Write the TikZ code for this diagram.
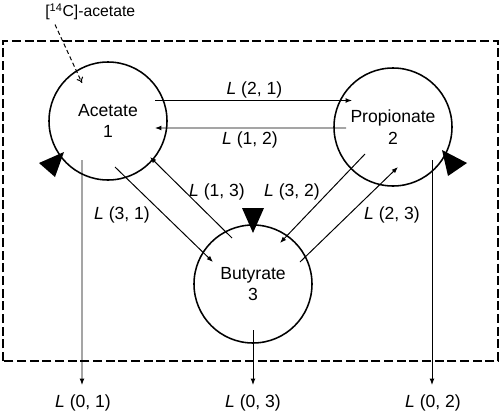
\documentclass[tikz,border=0pt]{standalone}
\usepackage{fontspec}
\setmainfont{Liberation Sans}
\usetikzlibrary{arrows.meta, calc}

\begin{document}
\begin{tikzpicture}[
    >={Latex[length=4.5pt,width=3.4pt]}, % Small filled arrow tips
    pool/.style={draw, circle, line width=1.1pt, minimum size=2.95cm, inner sep=0pt, align=center}, % Style for the pools
    flow/.style={->, line width=0.7pt}, % Style for the exchanges
    tracer/.style={-{To[length=4pt,width=5pt]}, line width=0.7pt, dash pattern=on 3pt off 2pt}, % Style for the label input
    boxstyle/.style={line width=1.3pt, dash pattern=on 6.4pt off 2.6pt}, % Style for the system box
    marker/.style={fill=black}, % Style for the big triangles
    every node/.style={font=\fontsize{12.5}{15.5}\selectfont}
]
    \useasboundingbox (0, 0) rectangle (12.5, 10.35);

    % Pools
    \node[pool] (ace) at (2.7, 7.325)   {Acetate\\1};
    \node[pool] (pro) at (9.825, 7.175) {Propionate\\2};
    \node[pool] (but) at (6.325, 3.25)  {Butyrate\\3};

    % System box
    \draw[boxstyle] (0.075, 1.325) rectangle (12.45, 9.325);

    % Tracer input
    \node[anchor=west, inner sep=0pt, font=\fontsize{11.2}{13}\selectfont] (src) at (1.125, 10.05) {[\textsuperscript{14}C]-acetate};
    \coordinate (srcEnd) at ($(ace)+(-0.65, 0.95)$);
    \draw[tracer] ($(src.south west)+(0.25, -0.1)$) -- (srcEnd);

    % Exchanges between the pools
    \draw[flow] ($(ace)+(1.175, 0.5125)$) -- ($(pro)+(-1.025, 0.6625)$);
    \draw[flow] ($(pro)+(-1.175, -0.025)$) -- ($(ace)+(1.175, -0.175)$);
    \draw[flow] ($(but)+(-0.525, 1.15)$) -- ($(ace)+(1.05, -0.9)$);
    \draw[flow] ($(ace)+(0.175, -1.15)$) -- ($(but)+(-1.0, 0.55)$);
    \draw[flow] ($(pro)+(-0.7, -0.675)$) -- ($(but)+(0.675, 1.025)$);
    \draw[flow] ($(but)+(1.175, 0.55)$) -- ($(pro)+(0.125, -1.0)$);

    % Labels of the exchanges
    \node at (6.36, 8.1)    {\textit{L} (2, 1)};
    \node at (6.25, 6.85)   {\textit{L} (1, 2)};
    \node at (5.425, 5.55)  {\textit{L} (1, 3)};
    \node at (7.3, 5.55)    {\textit{L} (3, 2)};
    \node at (3.05, 4.975)  {\textit{L} (3, 1)};
    \node at (9.8, 4.975)   {\textit{L} (2, 3)};

    % Losses
    \coordinate (out1) at (2.05, 0.725);
    \coordinate (out3) at (6.325, 0.725);
    \coordinate (out2) at (10.8, 0.725);
    \draw[flow] ($(ace)+(-0.65, -0.975)$) -- (out1);
    \draw[flow] ($(but)+(0, -1.15)$) -- (out3);
    \draw[flow] ($(pro)+(0.975, -0.825)$) -- (out2);
    \node at (2.075, 0.275)  {\textit{L} (0, 1)};
    \node at (6.325, 0.275)  {\textit{L} (0, 3)};
    \node at (10.825, 0.275) {\textit{L} (0, 2)};

    % Big triangles on the pools
    \fill[marker] (1.6, 6.55) -- (0.975, 6.275) -- (1.375, 5.925) -- cycle;
    \fill[marker] (11.05, 6.6) -- (11.675, 6.275) -- (11.2, 5.95) -- cycle;
    \fill[marker] (6.325, 4.525) -- (6.05, 5.15) -- (6.6, 5.15) -- cycle;

\end{tikzpicture}
\end{document}
